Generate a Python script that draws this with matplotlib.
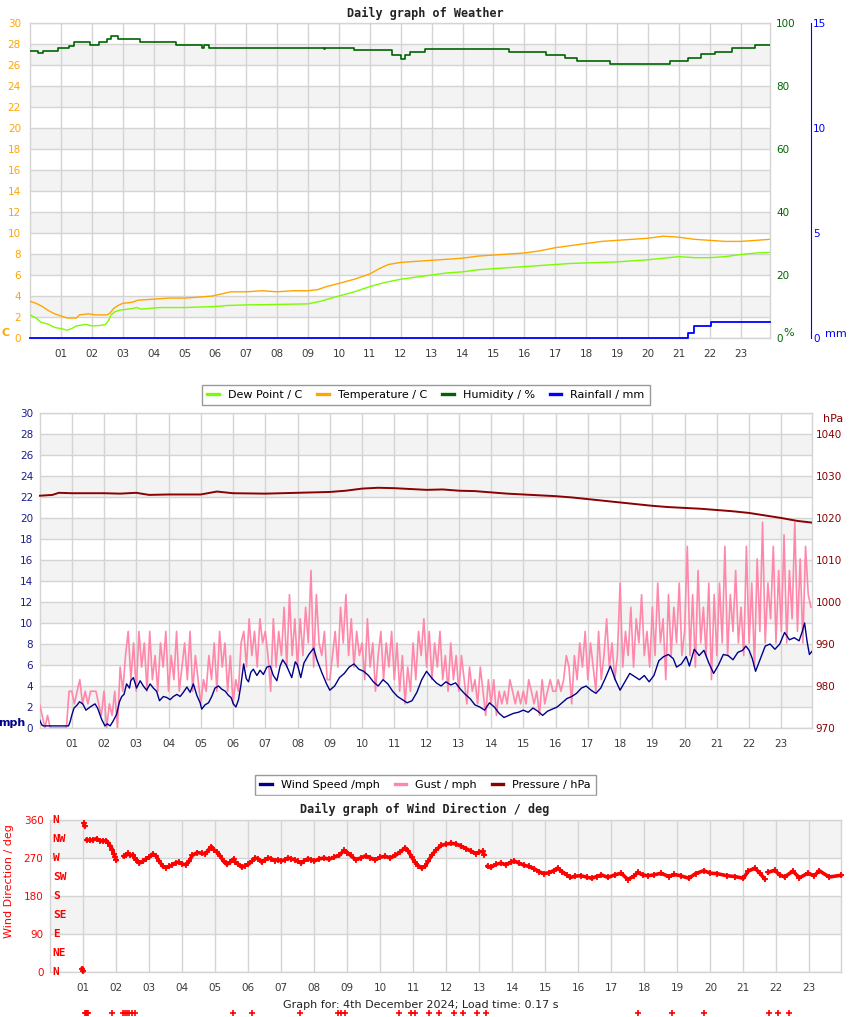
# ==========================================================
# DAILY WEATHER GRAPHS - 4th December 2024
# temperature / humidity / rain, wind / pressure, wind direction
# ==========================================================

import numpy as np
import matplotlib
matplotlib.use("Agg")
import matplotlib.pyplot as plt
from matplotlib.lines import Line2D
from matplotlib.patches import Rectangle

plt.rcParams["font.family"] = "DejaVu Sans"

# ==========================================================
# DATA
# ==========================================================

hour_ticks = list(range(1, 24))
hour_labels = [f"{h:02d}" for h in hour_ticks]

# --- temperature / dew point (C)
temp_h = [0.0, 0.2, 0.4, 0.6, 0.8, 1.0, 1.2, 1.5, 1.6, 1.9, 2.1, 2.5, 2.6, 2.7,
          2.85, 3.0, 3.3, 3.5, 4.0, 4.5, 5.0, 5.5, 5.9, 6.2, 6.5, 7.0, 7.5, 8.0,
          8.5, 9.0, 9.3, 9.6, 10.0, 10.5, 11.0, 11.3, 11.6, 12.0, 12.5, 13.0,
          13.5, 14.0, 14.5, 15.0, 15.5, 16.0, 16.5, 17.0, 17.5, 18.0, 18.5,
          19.0, 19.5, 20.0, 20.5, 21.0, 21.5, 22.0, 22.5, 23.0, 23.5, 23.95]
temp_c = [3.5, 3.3, 3.0, 2.6, 2.3, 2.1, 1.9, 1.9, 2.2, 2.3, 2.2, 2.2, 2.4, 2.8,
          3.1, 3.3, 3.4, 3.6, 3.7, 3.8, 3.8, 3.9, 4.0, 4.2, 4.4, 4.4, 4.5, 4.4,
          4.5, 4.5, 4.6, 4.9, 5.2, 5.6, 6.1, 6.6, 7.0, 7.2, 7.3, 7.4,
          7.5, 7.6, 7.8, 7.9, 8.0, 8.1, 8.3, 8.6, 8.8, 9.0, 9.2,
          9.3, 9.4, 9.5, 9.7, 9.6, 9.4, 9.3, 9.2, 9.2, 9.3, 9.4]

dew_h = [0.0, 0.2, 0.35, 0.6, 0.8, 1.0, 1.2, 1.35, 1.5, 1.8, 2.0, 2.3, 2.45,
         2.55, 2.62, 2.75, 2.9, 3.3, 3.45, 3.6, 4.2, 5.0, 5.5, 6.0, 6.4, 7.0,
         8.0, 9.0, 9.4, 10.0, 10.5, 11.0, 11.5, 12.0, 12.5, 13.0, 13.5, 14.0,
         14.5, 15.0, 15.5, 16.0, 16.5, 17.0, 17.5, 18.0, 18.5, 19.0, 19.5,
         20.0, 20.5, 21.0, 21.5, 22.0, 22.5, 23.0, 23.5, 23.95]
dew_c = [2.2, 1.9, 1.5, 1.3, 1.0, 0.9, 0.75, 0.9, 1.15, 1.3, 1.15, 1.2, 1.3,
         1.7, 2.2, 2.5, 2.65, 2.8, 2.9, 2.75, 2.9, 2.9, 2.95, 3.0, 3.1, 3.15,
         3.2, 3.25, 3.5, 4.0, 4.4, 4.9, 5.3, 5.6, 5.8, 6.0, 6.2, 6.3,
         6.5, 6.6, 6.7, 6.8, 6.9, 7.0, 7.1, 7.15, 7.2, 7.25, 7.35,
         7.45, 7.6, 7.75, 7.65, 7.65, 7.75, 7.95, 8.1, 8.15]

# --- humidity (%), step values
hum_h = [0.0, 0.26, 0.42, 0.9, 1.26, 1.42, 1.95, 2.23, 2.5, 2.62, 2.84, 3.55,
         4.72, 5.58, 5.64, 5.78, 9.5, 9.55, 10.5, 11.7, 12.0, 12.15, 12.3,
         12.8, 15.5, 16.7, 17.3, 17.7, 18.78, 20.72, 21.3, 21.72, 22.17,
         22.72, 23.46, 23.95]
hum_pct = [91.0, 90.5, 91.0, 92.0, 92.8, 93.9, 92.9, 93.9, 94.8, 95.8, 94.9,
           93.9, 92.9, 92.0, 92.9, 92.0, 91.6, 92.0, 91.4, 89.8, 88.6, 89.8,
           90.8, 91.7, 90.8, 89.8, 88.9, 87.9, 86.9, 87.8, 88.8, 90.1, 90.9,
           92.0, 93.0, 93.0]

# --- rainfall (mm)
rain_h = [0.0, 21.3, 21.5, 22.05, 23.95]
rain_mm = [0.0, 0.22, 0.57, 0.76, 0.76]

# --- wind speed (mph)
wind_h = [0.0, 0.07, 0.12, 0.9, 0.95, 1.0, 1.07, 1.17, 1.24, 1.34, 1.44, 1.57,
          1.72, 1.8, 1.86, 1.93, 2.03, 2.1, 2.19, 2.29, 2.39, 2.48, 2.55, 2.62,
          2.7, 2.79, 2.83, 2.91, 3.01, 3.12, 3.22, 3.32, 3.43, 3.53, 3.63,
          3.72, 3.84, 3.95, 4.05, 4.15, 4.26, 4.36, 4.46, 4.57, 4.67, 4.77,
          4.88, 4.98, 5.03, 5.13, 5.24, 5.34, 5.44, 5.55, 5.65, 5.76, 5.86,
          5.94, 6.01, 6.09, 6.17, 6.24, 6.33, 6.41, 6.48, 6.55, 6.63, 6.74,
          6.84, 6.94, 7.05, 7.15, 7.25, 7.36, 7.46, 7.54, 7.65, 7.72, 7.82,
          7.93, 8.0, 8.1, 8.2, 8.35, 8.5, 8.6, 8.75, 8.9, 9.0, 9.15, 9.3, 9.45,
          9.6, 9.75, 9.9, 10.05, 10.2, 10.35, 10.5, 10.65, 10.8, 10.95, 11.1,
          11.25, 11.4, 11.55, 11.7, 11.85, 12.0, 12.15, 12.3, 12.45, 12.6,
          12.75, 12.9, 13.05, 13.2, 13.35, 13.5, 13.65, 13.8, 13.95, 14.1,
          14.25, 14.4, 14.55, 14.7, 14.85, 15.0, 15.15, 15.3, 15.45, 15.6,
          15.75, 15.9, 16.05, 16.2, 16.35, 16.5, 16.65, 16.8, 16.95, 17.1,
          17.25, 17.4, 17.55, 17.7, 17.85, 18.0, 18.15, 18.3, 18.45, 18.6,
          18.75, 18.9, 19.05, 19.2, 19.35, 19.5, 19.65, 19.75, 19.9, 20.05,
          20.15, 20.3, 20.45, 20.6, 20.75, 20.9, 21.05, 21.2, 21.35, 21.5,
          21.65, 21.8, 21.9, 22.0, 22.1, 22.2, 22.35, 22.5, 22.65, 22.8, 22.95,
          23.1, 23.25, 23.4, 23.55, 23.65, 23.72, 23.8, 23.87, 23.95]
wind_mph = [0.8, 0.3, 0.2, 0.2, 0.6, 1.2, 1.9, 2.2, 2.5, 2.3, 1.7, 2.0,
            2.3, 1.9, 1.4, 0.8, 0.2, 0.4, 0.2, 0.7, 1.3, 2.5, 3.0, 3.2,
            4.2, 3.8, 4.5, 4.8, 3.8, 4.5, 4.0, 3.6, 4.2, 3.8, 3.5,
            2.6, 3.0, 2.9, 2.7, 3.0, 3.2, 3.0, 3.4, 3.9, 3.4, 4.2,
            3.1, 2.4, 1.8, 2.2, 2.4, 3.0, 3.8, 4.0, 3.7, 3.5, 3.1,
            2.9, 2.3, 2.0, 2.7, 4.0, 6.1, 4.7, 4.4, 5.3, 5.6, 5.0,
            5.5, 5.1, 5.8, 5.9, 5.0, 4.5, 5.9, 6.5, 6.0, 5.5, 4.8,
            6.3, 6.0, 4.8, 6.2, 7.0, 7.6, 6.5, 5.3, 4.2, 3.6, 4.0, 4.8, 5.2,
            5.8, 6.1, 5.6, 5.4, 5.0, 4.4, 4.0, 4.6, 4.2, 3.5, 3.0,
            2.7, 2.4, 2.6, 3.4, 4.6, 5.4, 4.8, 4.3, 4.0, 4.4,
            4.1, 4.3, 3.7, 3.2, 2.8, 2.2, 2.0, 1.7, 2.4, 2.0,
            1.4, 1.0, 1.2, 1.4, 1.5, 1.7, 1.5, 1.9, 1.6, 1.2,
            1.6, 1.8, 2.0, 2.4, 2.8, 3.0, 3.3, 3.8, 4.0, 3.6,
            3.3, 3.8, 4.8, 5.9, 4.6, 3.6, 4.4, 5.2, 4.9, 4.6,
            5.0, 4.4, 5.0, 6.4, 6.8, 7.0, 6.6, 5.8, 6.1, 6.8,
            5.9, 7.5, 6.9, 7.4, 6.2, 5.2, 6.0, 7.0, 6.9, 6.5,
            7.2, 7.4, 7.8, 7.4, 6.6, 5.4, 6.6, 7.8, 8.0, 7.5, 8.0,
            9.1, 8.4, 8.6, 8.3, 9.2, 10.0, 8.2, 7.0, 7.3]

# --- gust (mph), one reading every 5 minutes, one row per hour
gust_mph = [
    2.3, 1.2, 0.0, 1.2, 0.0, 0.0, 0.0, 0.0, 0.0, 0.0, 0.0, 3.5,      # 00
    3.5, 2.3, 3.5, 4.6, 2.3, 3.5, 2.3, 3.5, 3.5, 3.5, 2.3, 1.2,      # 01
    3.5, 0.0, 2.3, 1.2, 3.5, 0.0, 5.8, 3.5, 6.9, 9.2, 4.6, 8.1,      # 02
    3.5, 9.2, 5.8, 8.1, 3.5, 9.2, 4.6, 6.9, 3.5, 8.1, 5.8, 9.2,      # 03
    3.5, 6.9, 4.6, 9.2, 3.5, 5.8, 8.1, 4.6, 9.2, 3.5, 6.9, 4.6,      # 04
    2.3, 4.6, 3.5, 6.9, 4.6, 8.1, 3.5, 9.2, 5.8, 8.1, 3.5, 6.9,      # 05
    2.3, 4.6, 3.5, 8.1, 9.2, 5.8, 10.4, 6.9, 9.2, 5.8, 10.4, 8.1,    # 06
    9.2, 6.9, 3.5, 10.4, 5.8, 9.2, 6.9, 11.5, 5.8, 12.7, 6.9, 10.4,  # 07
    5.8, 10.4, 6.9, 11.5, 8.1, 15.0, 5.8, 12.7, 8.1, 6.9, 9.2, 4.6,  # 08
    4.6, 6.9, 9.2, 5.8, 11.5, 8.1, 12.7, 6.9, 10.4, 5.8, 9.2, 6.9,   # 09
    8.1, 4.6, 10.4, 5.8, 8.1, 3.5, 6.9, 9.2, 4.6, 8.1, 5.8, 9.2,     # 10
    4.6, 8.1, 3.5, 6.9, 2.3, 5.8, 3.5, 8.1, 4.6, 9.2, 6.9, 10.4,     # 11
    5.8, 9.2, 4.6, 8.1, 5.8, 9.2, 4.6, 6.9, 3.5, 8.1, 4.6, 6.9,      # 12
    3.5, 6.9, 4.6, 2.3, 5.8, 3.5, 4.6, 2.3, 5.8, 3.5, 1.2, 4.6,      # 13
    2.3, 4.6, 1.2, 3.5, 2.3, 3.5, 2.3, 4.6, 3.5, 2.3, 3.5, 2.3,      # 14
    3.5, 2.3, 4.6, 3.5, 2.3, 3.5, 1.2, 4.6, 2.3, 3.5, 4.6, 3.5,      # 15
    3.5, 4.6, 3.5, 4.6, 6.9, 5.8, 2.3, 6.9, 4.6, 8.1, 5.8, 9.2,      # 16
    4.6, 8.1, 5.8, 3.5, 9.2, 4.6, 6.9, 10.4, 5.8, 8.1, 4.6, 6.9,     # 17
    13.8, 5.8, 9.2, 6.9, 11.5, 5.8, 10.4, 8.1, 12.7, 6.9, 9.2, 5.8,  # 18
    11.5, 6.9, 13.8, 8.1, 10.4, 4.6, 12.7, 6.9, 11.5, 8.1, 13.8, 6.9,  # 19
    9.2, 17.3, 6.9, 12.7, 5.8, 15.0, 8.1, 11.5, 6.9, 13.8, 4.6, 12.7,  # 20
    6.9, 13.8, 8.1, 17.3, 6.9, 12.7, 9.2, 15.0, 8.1, 11.5, 6.9, 17.3,  # 21
    8.1, 13.8, 5.8, 16.1, 9.2, 19.6, 8.1, 13.8, 10.4, 17.3, 8.1, 15.0,  # 22
    9.2, 18.4, 8.1, 15.0, 10.4, 19.6, 9.2, 16.1, 8.1, 17.3, 12.7, 11.5,  # 23
]
gust_h = np.arange(len(gust_mph)) / 12.0

# --- pressure (hPa)
pres_h = [0.0, 0.4, 0.6, 1.0, 2.0, 2.5, 3.0, 3.4, 4.0, 5.0, 5.5, 6.0, 7.0,
          8.0, 9.0, 9.5, 10.0, 10.5, 11.0, 11.5, 12.0, 12.5, 13.0, 13.5,
          14.0, 14.5, 15.0, 15.5, 16.0, 16.5, 17.0, 17.5, 18.0, 18.5, 19.0,
          19.5, 20.0, 20.5, 21.0, 21.5, 22.0, 22.5, 23.0, 23.5, 23.95]
pres_hpa = [1025.3, 1025.5, 1026.0, 1025.9, 1025.9, 1025.8, 1026.0, 1025.5,
            1025.6, 1025.6, 1026.3, 1025.9, 1025.8, 1026.0, 1026.2, 1026.5,
            1027.0, 1027.2, 1027.1, 1026.9, 1026.7, 1026.8, 1026.5, 1026.4,
            1026.1, 1025.8, 1025.6, 1025.4, 1025.2, 1024.9, 1024.5, 1024.1,
            1023.7, 1023.3, 1022.9, 1022.6, 1022.4, 1022.2, 1021.9, 1021.6,
            1021.2, 1020.6, 1020.0, 1019.3, 1018.9]

# --- wind direction (deg), nan = no reading
dir_h = [0.97, 0.99, np.nan, 1.01, 1.04, np.nan, 1.1, 1.2, 1.3, 1.4, 1.5, 1.6,
         1.7, 1.75, 1.82, 1.88, 1.92, 1.96, 2.0, np.nan, 2.22, 2.3, 2.35,
         2.42, 2.5, 2.55, 2.6, 2.7, 2.8, 2.9, 3.0, 3.1, 3.2, 3.3, 3.4, 3.5,
         3.6, 3.7, 3.8, 3.9, 4.0, 4.1, 4.2, 4.3, 4.45, 4.6, 4.7, 4.8, 4.88,
         4.95, 5.05, 5.15, 5.25, 5.35, 5.45, 5.55, 5.6, 5.7, 5.8, 5.9, 6.0,
         6.1, 6.2, 6.3, 6.4, 6.5, 6.6, 6.7, 6.8, 6.9, 7.0, 7.1, 7.2, 7.3,
         7.4, 7.5, 7.6, 7.7, 7.8, 7.9, 8.0, 8.15, 8.3, 8.45, 8.6, 8.75, 8.9,
         9.0, 9.1, 9.25, 9.4, 9.55, 9.7, 9.85, 10.0, 10.15, 10.3, 10.45,
         10.6, 10.75, 10.85, 10.95, 11.05, 11.15, 11.25, 11.35, 11.45, 11.55,
         11.7, 11.85, 12.0, 12.15, 12.3, 12.45, 12.6, 12.75, 12.9, 13.0,
         13.1, 13.15, np.nan, 13.25, 13.35, 13.5, 13.65, 13.8, 13.95, 14.05,
         14.2, 14.35, 14.5, 14.65, 14.8, 14.95, 15.1, 15.25, 15.37, 15.5,
         15.65, 15.76, 15.9, 16.07, 16.25, 16.4, 16.55, 16.7, 16.9, 17.1,
         17.3, 17.5, 17.7, 17.8, 17.95, 18.1, 18.3, 18.5, 18.75, 18.9, 19.1,
         19.35, 19.55, 19.8, 20.0, 20.2, 20.5, 20.75, 21.0, 21.15, 21.35,
         21.5, 21.65, np.nan, 21.75, 21.95, 22.1, 22.25, 22.5, 22.7, 22.95,
         23.15, 23.3, 23.6, 23.95]
dir_deg = [8, 2, np.nan, 352, 346, np.nan, 313, 312, 313, 316, 311, 310,
           311, 306, 298, 290, 280, 272, 265, np.nan, 274, 276, 281,
           276, 278, 270, 266, 258, 262, 268, 272, 280, 275, 262, 251, 247,
           250, 254, 259, 260, 256, 254, 262, 276, 283, 281, 280, 290, 297,
           290, 284, 274, 262, 255, 260, 268, 260, 255, 248, 252, 255,
           262, 270, 268, 260, 265, 270, 268, 264, 266, 263, 266, 270, 268,
           266, 262, 258, 264, 268, 266, 263, 268, 270, 267, 272, 276, 288,
           283, 276, 266, 270, 275, 270, 266, 272, 274, 270, 276,
           284, 294, 286, 272, 260, 252, 246, 250, 262, 276,
           290, 300, 303, 305, 303, 298, 292, 286, 280, 284,
           286, 278, np.nan, 250, 248, 255, 258, 254, 260, 263,
           258, 253, 250, 245, 238, 233, 235, 240, 246, 238,
           230, 224, 227, 228, 225, 222, 226, 230, 224, 230,
           234, 219, 228, 236, 230, 228, 230, 234, 226, 231, 228,
           222, 233, 240, 234, 233, 228, 226, 222, 239, 246,
           234, 220, np.nan, 236, 241, 230, 225, 239, 223, 234,
           228, 240, 225, 229]

# readings with no valid direction, drawn under the chart
calm_h = [1.05, 1.08, 1.12, 1.15, 1.86, 2.21, 2.27, 2.33, 2.37, 2.47, 2.57,
          5.52, 6.12, 7.56, 8.72, 8.8, 8.94, 10.56, 10.92, 11.04, 11.47,
          11.78, 12.23, 12.49, 12.94, 13.19, 17.81, 18.85, 19.82, 21.79,
          22.05, 22.38]
calm_deg = -96

compass = ["N", "NW", "W", "SW", "S", "SE", "E", "NE", "N"]
compass_deg = [360, 315, 270, 225, 180, 135, 90, 45, 0]

# ==========================================================
# STYLE
# ==========================================================

W, H = 850, 1017
X_MAX = 23.95
GRID = "#d4d4d4"
BAND = "#f3f3f3"
TICK = "#3a3a3a"

C_TEMP = "#ffa500"
C_DEW = "#7cfc00"
C_HUM = "#006400"
C_RAIN = "#0000ff"
C_WIND = "#00008b"
C_GUST = "#ff88aa"
C_PRES = "#8b0000"
C_MPH = "#1c1c8c"
C_DIR = "#ff0000"


def caixa(left, top, right, bottom):
    return [left / W, 1 - bottom / H, (right - left) / W, (bottom - top) / H]


def texto(fig, x, y, s, **kw):
    fig.text(x / W, 1 - y / H, s, **kw)


def preparar_eixo(ax, y_max, y_step, bandas, cor, pad):
    ax.set_xlim(0, X_MAX)
    ax.set_ylim(0, y_max)
    for b0, b1 in bandas:
        ax.axhspan(b0, b1, color=BAND, lw=0, zorder=0)
    ax.set_xticks(hour_ticks)
    ax.set_xticklabels(hour_labels)
    ax.set_yticks(np.arange(0, y_max + 1, y_step))
    ax.grid(True, color=GRID, lw=1, zorder=0.5)
    ax.set_axisbelow(True)
    ax.tick_params(axis="x", length=0, pad=8, labelsize=7.5, labelcolor=TICK)
    ax.tick_params(axis="y", length=0, pad=pad, labelsize=7.5, labelcolor=cor)
    for sp in ax.spines.values():
        sp.set_color(GRID)
        sp.set_linewidth(1)


def legenda(fig, itens, cx, cy):
    handles = [Line2D([], [], color=c, lw=2.4) for c, _ in itens]
    labels = [t for _, t in itens]
    leg = fig.legend(handles, labels, loc="center",
                     bbox_to_anchor=(cx / W, 1 - cy / H), ncol=len(itens),
                     fontsize=8, frameon=True, fancybox=False,
                     edgecolor="#808080", handlelength=1.05,
                     handletextpad=0.8, columnspacing=1.35, borderpad=0.45)
    leg.get_frame().set_linewidth(1)
    return leg


# ==========================================================
# FIGURE
# ==========================================================

fig = plt.figure(figsize=(W / 100, H / 100), dpi=100)

# ---------------- chart 1: temperature / humidity / rain
ax1 = fig.add_axes(caixa(30, 23, 770, 338))
preparar_eixo(ax1, 30, 2, [(b, b + 2) for b in range(2, 30, 4)], C_TEMP, 6.5)
ax1.plot(temp_h, temp_c, color=C_TEMP, lw=1, zorder=3)
ax1.plot(dew_h, dew_c, color=C_DEW, lw=1, zorder=3)

axh = ax1.twinx()
axh.set_ylim(0, 100)
axh.set_yticks(range(0, 101, 20))
axh.tick_params(axis="y", length=0, pad=4.5, labelsize=7.5, labelcolor=C_HUM)
for sp in axh.spines.values():
    sp.set_visible(False)
axh.step(hum_h, hum_pct, where="post", color=C_HUM, lw=1.2)

axr = ax1.twinx()
axr.set_ylim(0, 15)
axr.set_yticks([0, 5, 10, 15])
for sp in axr.spines.values():
    sp.set_visible(False)
axr.spines["right"].set_visible(True)
axr.spines["right"].set_position(("outward", 29.5))
axr.spines["right"].set_color(C_RAIN)
axr.tick_params(axis="y", length=0, pad=1.5, labelsize=7.5, labelcolor=C_RAIN)
axr.step(rain_h, rain_mm, where="post", color=C_RAIN, lw=1.3, clip_on=False)

texto(fig, 425, 13, "Daily graph of Weather", ha="center", va="center",
      family="DejaVu Sans Mono", weight="bold", fontsize=8.5, color="#222222")
texto(fig, 6, 333, "C", ha="center", va="center", weight="bold",
      fontsize=8, color=C_TEMP)
texto(fig, 789, 333, "%", ha="center", va="center", fontsize=8, color=C_HUM)
texto(fig, 836, 334, "mm", ha="center", va="center", fontsize=8,
      color=C_RAIN)

legenda(fig, [(C_DEW, "Dew Point / C"), (C_TEMP, "Temperature / C"),
              (C_HUM, "Humidity / %"), (C_RAIN, "Rainfall / mm")],
        426, 395)

# ---------------- chart 2: wind / gust / pressure
ax2 = fig.add_axes(caixa(39.5, 413, 812, 728))
preparar_eixo(ax2, 30, 2, [(b, b + 2) for b in range(2, 30, 4)], C_MPH, 4.5)
ax2.plot(gust_h, gust_mph, color=C_GUST, lw=1.2, zorder=3)
ax2.plot(wind_h, wind_mph, color=C_WIND, lw=1, zorder=4)

axp = ax2.twinx()
axp.set_ylim(970, 1045)
axp.set_yticks(range(970, 1041, 10))
axp.tick_params(axis="y", length=0, pad=2.5, labelsize=7.5, labelcolor=C_PRES)
for sp in axp.spines.values():
    sp.set_visible(False)
axp.plot(pres_h, pres_hpa, color=C_PRES, lw=1.4)

texto(fig, 12, 723, "mph", ha="center", va="center", weight="bold",
      fontsize=8, color=C_WIND)
texto(fig, 833, 419, "hPa", ha="center", va="center", fontsize=8,
      color=C_PRES)

legenda(fig, [(C_WIND, "Wind Speed /mph"), (C_GUST, "Gust / mph"),
              (C_PRES, "Pressure / hPa")], 425.5, 785)
# the lower edge of this legend is hidden in the original
fig.patches.append(Rectangle((248 / W, 1 - 800 / H), 356 / W, 4 / H,
                             transform=fig.transFigure, color="white",
                             zorder=10))

# ---------------- chart 3: wind direction
ax3 = fig.add_axes(caixa(50.4, 820, 840.7, 972))
preparar_eixo(ax3, 360, 90, [(270, 360), (90, 180)], C_DIR, 5)
ax3.plot(dir_h, dir_deg, color=C_DIR, lw=2.6, marker="+", ms=4.5, mew=1.3,
         zorder=3, clip_on=False)
ax3.plot(calm_h, [calm_deg] * len(calm_h), "+", color=C_DIR, ms=4, mew=1.2,
         clip_on=False)

for s, d in zip(compass, compass_deg):
    ax3.text(0.003, d, s, transform=ax3.get_yaxis_transform(), ha="left",
             va="center", fontsize=8, weight="bold", color=C_DIR,
             family="DejaVu Sans Mono")

texto(fig, 425, 809, "Daily graph of Wind Direction / deg", ha="center",
      va="center", family="DejaVu Sans Mono", weight="bold", fontsize=8.5,
      color="#222222")
texto(fig, 9, 881, "Wind Direction / deg", ha="center", va="center",
      rotation=90, fontsize=8, color=C_DIR)

texto(fig, 421, 1005, "Graph for: 4th December 2024; Load time: 0.17 s",
      ha="center", va="center", fontsize=8, color="#222222")

fig.savefig("out.png", dpi=100)
